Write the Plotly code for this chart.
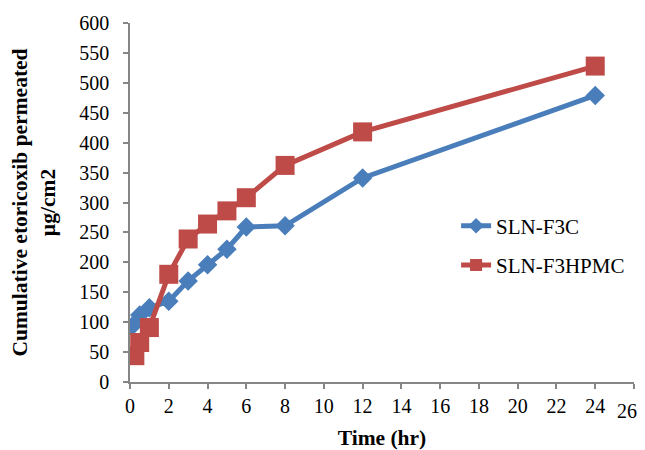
import plotly.graph_objects as go

time_f3c = [0.1, 0.5, 1, 2, 3, 4, 5, 6, 8, 12, 24]
sln_f3c = [93, 112, 124, 135, 169, 196, 222, 259, 261, 341, 479]

time_hpmc = [0.25, 0.5, 1, 2, 3, 4, 5, 6, 8, 12, 24]
sln_f3hpmc = [44, 66, 91, 180, 239, 264, 286, 308, 362, 418, 528]

x_ticks = list(range(0, 27, 2))
y_ticks = list(range(0, 601, 50))

font = "Liberation Serif, Times New Roman, serif"
blue = "#4A7EBB"
red = "#BE4B48"

fig = go.Figure()
fig.add_trace(go.Scatter(
    x=time_f3c, y=sln_f3c, name="SLN-F3C", mode="lines+markers",
    legendgroup="a",
    line=dict(color=blue, width=5),
    marker=dict(symbol="diamond", size=15, color=blue),
))
fig.add_trace(go.Scatter(
    x=time_hpmc, y=sln_f3hpmc, name="SLN-F3HPMC", mode="lines+markers",
    legendgroup="b",
    line=dict(color=red, width=5),
    marker=dict(symbol="square", size=19, color=red),
))

# the last tick label is written as an annotation nudged slightly left so
# it stays inside the visible page
main_text = [str(v) for v in x_ticks[:-1]] + [""]

fig.add_annotation(
    x=x_ticks[-1], y=0, xref="x", yref="y",
    text=str(x_ticks[-1]), showarrow=False,
    xanchor="center", yanchor="middle", xshift=-7, yshift=-29,
    font=dict(family=font, size=20, color="black"),
)

fig.update_layout(
    width=637, height=442,
    margin=dict(l=122, r=11, t=15, b=68, autoexpand=False),
    paper_bgcolor="white", plot_bgcolor="white",
    font=dict(family=font, size=20, color="black"),
    showlegend=True,
    legend=dict(x=0.647, y=0.38, xanchor="left", yanchor="middle",
                font=dict(family=font, size=21, color="black"),
                bgcolor="rgba(0,0,0,0)", tracegroupgap=9,
                itemsizing="constant", traceorder="grouped"),
    xaxis=dict(
        range=[0, 26], tickvals=x_ticks, ticktext=main_text,
        automargin=False,
        showgrid=False, zeroline=False, showline=True, linecolor="#868686", linewidth=1.5,
        ticks="outside", ticklen=5, tickcolor="#868686", tickwidth=1.5,
        tickfont=dict(family=font, size=20),
        title=dict(text="<b>Time (hr)</b>", font=dict(family=font, size=21.5), standoff=14),
    ),
    yaxis=dict(
        range=[0, 600], tickvals=y_ticks, ticktext=[str(v) for v in y_ticks],
        automargin=False,
        showgrid=False, zeroline=False, showline=True, linecolor="#868686", linewidth=1.5,
        ticks="outside", ticklen=5, tickcolor="#868686", tickwidth=1.5,
        ticklabelstandoff=10,
        tickfont=dict(family=font, size=20),
        title=dict(text="<b>Cumulative etoricoxib permeated<br>µg/cm2</b>",
                   font=dict(family=font, size=21.5), standoff=20),
    ),
)

fig.write_html("out.html")
